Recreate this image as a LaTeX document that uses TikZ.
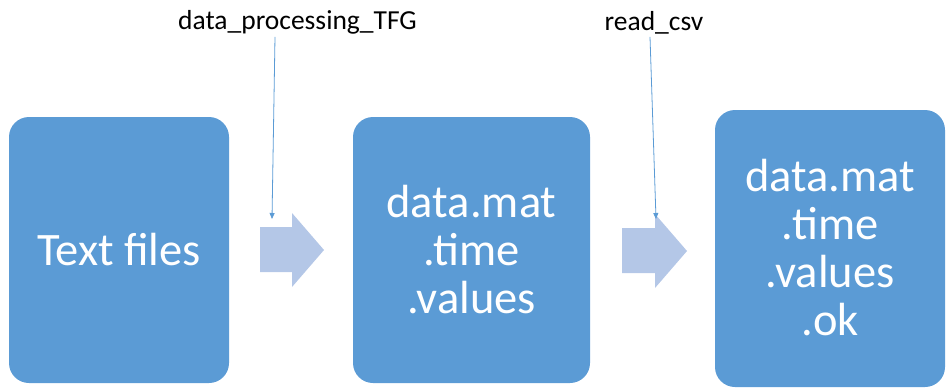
\documentclass[tikz,border=0pt]{standalone}
\usepackage{fontspec}
\setmainfont{Carlito}
\usetikzlibrary{arrows.meta}
\definecolor{boxblue}{RGB}{91,155,213}
\definecolor{flowblue}{RGB}{180,199,231}
\tikzset{
  stage/.style={fill=boxblue, rounded corners=20pt},
  stagetext/.style={text=white, font=\fontsize{46.5}{48}\selectfont, align=center, inner sep=0pt},
  flow/.style={fill=flowblue},
  label/.style={font=\fontsize{27.5}{30}\selectfont, inner sep=0pt, anchor=base},
  pointer/.style={draw=boxblue, line width=0.8pt, -{Triangle[length=6pt,width=5pt]}}
}
\begin{document}
\begin{tikzpicture}[x=1pt, y=-1pt]
\useasboundingbox (0,0) rectangle (947,388);
% stage boxes
\fill[stage] (9,117) rectangle (229,383);
\node[stagetext] (s1) at (119,250) {Text files};
\fill[stage] (353,117) rectangle (590,383);
\node[stagetext] (s2) at (471.5,250) {data.mat\\.time\\.values};
\fill[stage] (715,110) rectangle (945,387);
\node[stagetext] (s3) at (830,248) {data.mat\\.time\\.values\\.ok};
% block arrows between stages
\fill[flow] (260,227) -- (292,227) -- (292,213) -- (324,250) -- (292,287) -- (292,272) -- (260,272) -- cycle;
\fill[flow] (622,228) -- (655,228) -- (655,214) -- (687,251) -- (655,288) -- (655,273) -- (622,273) -- cycle;
% operation labels
\node[label] (l1) at (297.5,29) {data\_processing\_TFG};
\node[label] (l2) at (654,30) {read\_csv};
\coordinate (t1) at (272,219);
\coordinate (t2) at (656,219);
\draw[pointer] (l1.south -| 275,0) ++(0,3) -- (t1);
\draw[pointer] (l2.south -| 650,0) ++(0,3) -- (t2);
\end{tikzpicture}
\end{document}
